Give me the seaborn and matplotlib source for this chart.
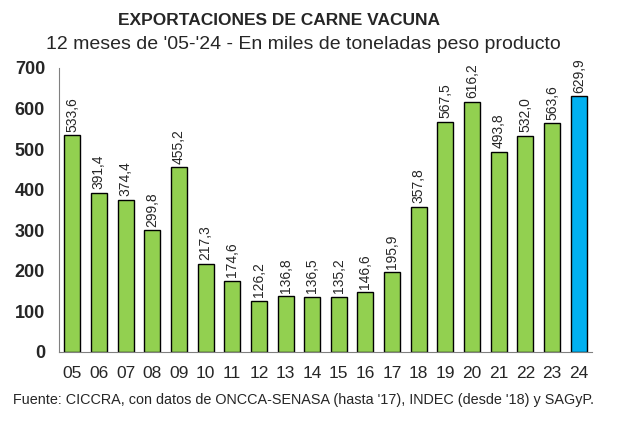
import numpy as np
import pandas as pd
import matplotlib
matplotlib.use("Agg")
import matplotlib.pyplot as plt
import seaborn as sns

years = ["05", "06", "07", "08", "09", "10", "11", "12", "13", "14",
         "15", "16", "17", "18", "19", "20", "21", "22", "23", "24"]
exports = [533.6, 391.4, 374.4, 299.8, 455.2, 217.3, 174.6, 126.2, 136.8, 136.5,
           135.2, 146.6, 195.9, 357.8, 567.5, 616.2, 493.8, 532.0, 563.6, 629.9]
labels = ["533,6", "391,4", "374,4", "299,8", "455,2", "217,3", "174,6", "126,2",
          "136,8", "136,5", "135,2", "146,6", "195,9", "357,8", "567,5", "616,2",
          "493,8", "532,0", "563,6", "629,9"]

sns.set_style("white")
plt.rcParams['font.family'] = ['Liberation Sans', 'DejaVu Sans']

df = pd.DataFrame({"year": years, "value": exports})
colors = {y: "#92D050" for y in years}
colors["24"] = "#00B0F0"

fig = plt.figure(figsize=(6.2, 4.24), dpi=100)
ax = fig.add_axes([0.095, 0.170, 0.860, 0.670])
sns.barplot(data=df, x="year", y="value", hue="year", palette=colors, legend=False,
            width=0.6, saturation=1, edgecolor="black", linewidth=1, ax=ax)

for i, (v, lab) in enumerate(zip(exports, labels)):
    ax.text(i, v + 9, lab, rotation=90, ha="center", va="bottom", fontsize=10)

ax.set_xlim(-0.5, len(years) - 0.5)
ax.set_ylim(0, 700)
ax.set_yticks(range(0, 701, 100))
ax.set_xlabel("")
ax.set_ylabel("")
for side in ["top", "right"]:
    ax.spines[side].set_visible(False)
ax.spines["left"].set_color("#808080")
ax.spines["bottom"].set_color("#808080")

ax.tick_params(axis="y", length=4, color="#808080", labelsize=13, pad=6)
for t in ax.get_yticklabels():
    t.set_fontweight("bold")
ax.tick_params(axis="x", which="major", length=0, labelsize=12.5, pad=10)
ax.set_xticks(np.arange(-0.5, len(years)), minor=True)
ax.tick_params(axis="x", which="minor", length=5, color="#808080", direction="out")

fig.text(0.45, 0.952, "EXPORTACIONES DE CARNE VACUNA", ha="center", va="center",
         fontsize=12.5, fontweight="bold")
fig.text(0.49, 0.895, "12 meses de '05-'24 - En miles de toneladas peso producto",
         ha="center", va="center", fontsize=14)
fig.text(0.49, 0.056, "Fuente: CICCRA, con datos de ONCCA-SENASA (hasta '17), INDEC (desde '18) y SAGyP.",
         ha="center", va="center", fontsize=10.4)

fig.savefig("out.png", dpi=100)
